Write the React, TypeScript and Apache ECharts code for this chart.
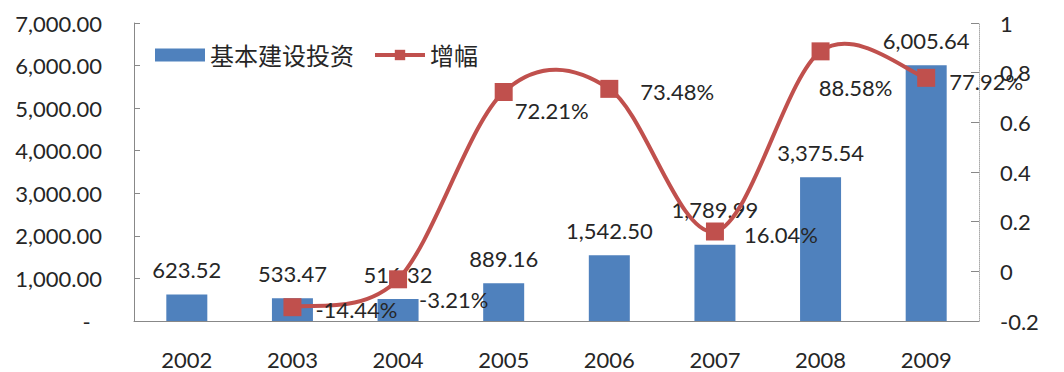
import React, { useEffect, useRef } from "react";
import * as echarts from "echarts";

const categories = ["2002", "2003", "2004", "2005", "2006", "2007", "2008", "2009"];
const investment = [623.52, 533.47, 516.32, 889.16, 1542.5, 1789.99, 3375.54, 6005.64];
const growth: (number | null)[] = [null, -0.1444, -0.0321, 0.7221, 0.7348, 0.1604, 0.8858, 0.7792];
const barName = "基本建设投资";
const lineName = "增幅";

const FONT = "Lato, 'Noto Sans CJK SC', sans-serif";
const TXT = "#262626";
const RED = "#C0504D";
const BLUE = "#4F81BD";

function fmtMoney(v: number) {
  return v.toLocaleString("en-US", { minimumFractionDigits: 2, maximumFractionDigits: 2 });
}

export default function App() {
  const ref = useRef<HTMLDivElement>(null);
  useEffect(() => {
    document.body.style.margin = "0";
    const chart = echarts.init(ref.current!, undefined, { renderer: "svg" });
    const lineLabelCfg: any[] = [
      {},
      { position: "right", distance: 14, offset: [0, 2] },
      { position: "right", distance: 12, offset: [0, 20] },
      { position: "right", distance: 2, offset: [0, 18] },
      { position: "right", distance: 22, offset: [0, 3] },
      { position: "right", distance: 20, offset: [0, 3] },
      { position: "bottom", distance: 10, offset: [35, 6] },
      { position: "right", distance: 14, offset: [0, 4] },
    ];
    const barLabelCfg: any[] = categories.map((_, i) => (i === 5 ? { offset: [0, -10] } : {}));

    // Excel-like smoothed curve (Catmull-Rom to cubic Bezier) drawn through the axis scales
    const renderCurve = (params: any, api: any) => {
      const pts: number[][] = [];
      growth.forEach((v, i) => {
        if (v !== null) pts.push(api.coord([i, v]));
      });
      if (pts.length < 2) return null;
      let d = `M${pts[0][0]},${pts[0][1]}`;
      for (let i = 0; i < pts.length - 1; i++) {
        const p0 = pts[i - 1] || pts[i];
        const p1 = pts[i];
        const p2 = pts[i + 1];
        const p3 = pts[i + 2] || pts[i + 1];
        const c1 = [p1[0] + (p2[0] - p0[0]) / 6, p1[1] + (p2[1] - p0[1]) / 6];
        const c2 = [p2[0] - (p3[0] - p1[0]) / 6, p2[1] - (p3[1] - p1[1]) / 6];
        d += ` C${c1[0]},${c1[1]} ${c2[0]},${c2[1]} ${p2[0]},${p2[1]}`;
      }
      return {
        type: "path",
        shape: { pathData: d },
        style: { fill: "none", stroke: RED, lineWidth: 4 },
      };
    };

    chart.setOption({
      animation: false,
      textStyle: { fontFamily: FONT },
      grid: { left: 134, right: 85, top: 23, bottom: 51 },
      legend: {
        left: 150,
        top: 38,
        itemWidth: 50,
        itemHeight: 13,
        itemGap: 19,
        textStyle: { fontSize: 24, color: TXT, fontFamily: FONT },
        data: [
          { name: barName, icon: "rect" },
          { name: lineName, lineStyle: { color: RED, width: 4, opacity: 1 } },
        ],
      },
      xAxis: {
        type: "category",
        data: categories,
        axisLine: { lineStyle: { color: "#888", width: 1 } },
        axisTick: { inside: true, length: 6, lineStyle: { color: "#888" } },
        axisLabel: { color: TXT, fontSize: 22, lineHeight: 22, margin: 27 },
      },
      yAxis: [
        {
          type: "value",
          min: 0,
          max: 7000,
          interval: 1000,
          splitLine: { show: false },
          axisLine: { show: true, lineStyle: { color: "#888" } },
          axisTick: { show: true, inside: true, length: 6, lineStyle: { color: "#888" } },
          axisLabel: {
            color: TXT,
            fontSize: 22,
            margin: 32,
            formatter: (v: number) => (v === 0 ? "-  " : fmtMoney(v)),
          },
        },
        {
          type: "value",
          min: -0.2,
          max: 1,
          interval: 0.2,
          splitLine: { show: false },
          axisLine: { show: true, lineStyle: { color: "#aaa", type: "dotted" } },
          axisTick: { show: true, inside: true, length: 8, lineStyle: { color: "#888" } },
          axisLabel: {
            color: TXT,
            fontSize: 22,
            margin: 21,
            formatter: (v: number) => String(Math.round(v * 10) / 10),
          },
        },
      ],
      series: [
        {
          name: barName,
          type: "bar",
          yAxisIndex: 0,
          barWidth: 41,
          itemStyle: { color: BLUE },
          data: investment.map((v, i) => ({ value: v, label: barLabelCfg[i] })),
          label: {
            show: true,
            position: "top",
            distance: 14,
            color: TXT,
            fontSize: 22,
            formatter: (p: any) => fmtMoney(p.value),
          },
        },
        {
          type: "custom",
          yAxisIndex: 1,
          renderItem: renderCurve,
          data: [0],
          silent: true,
          z: 3,
        },
        {
          name: lineName,
          type: "line",
          yAxisIndex: 1,
          symbol: "rect",
          symbolSize: 18,
          z: 4,
          lineStyle: { color: RED, width: 0, opacity: 0 },
          itemStyle: { color: RED },
          data: growth.map((v, i) => ({ value: v === null ? "-" : v, label: lineLabelCfg[i] })),
          label: {
            show: true,
            color: TXT,
            fontSize: 22,
            formatter: (p: any) => (p.value * 100).toFixed(2) + "%",
          },
        },
      ],
    });
    return () => chart.dispose();
  }, []);
  return <div ref={ref} style={{ width: 1064, height: 372 }} />;
}
